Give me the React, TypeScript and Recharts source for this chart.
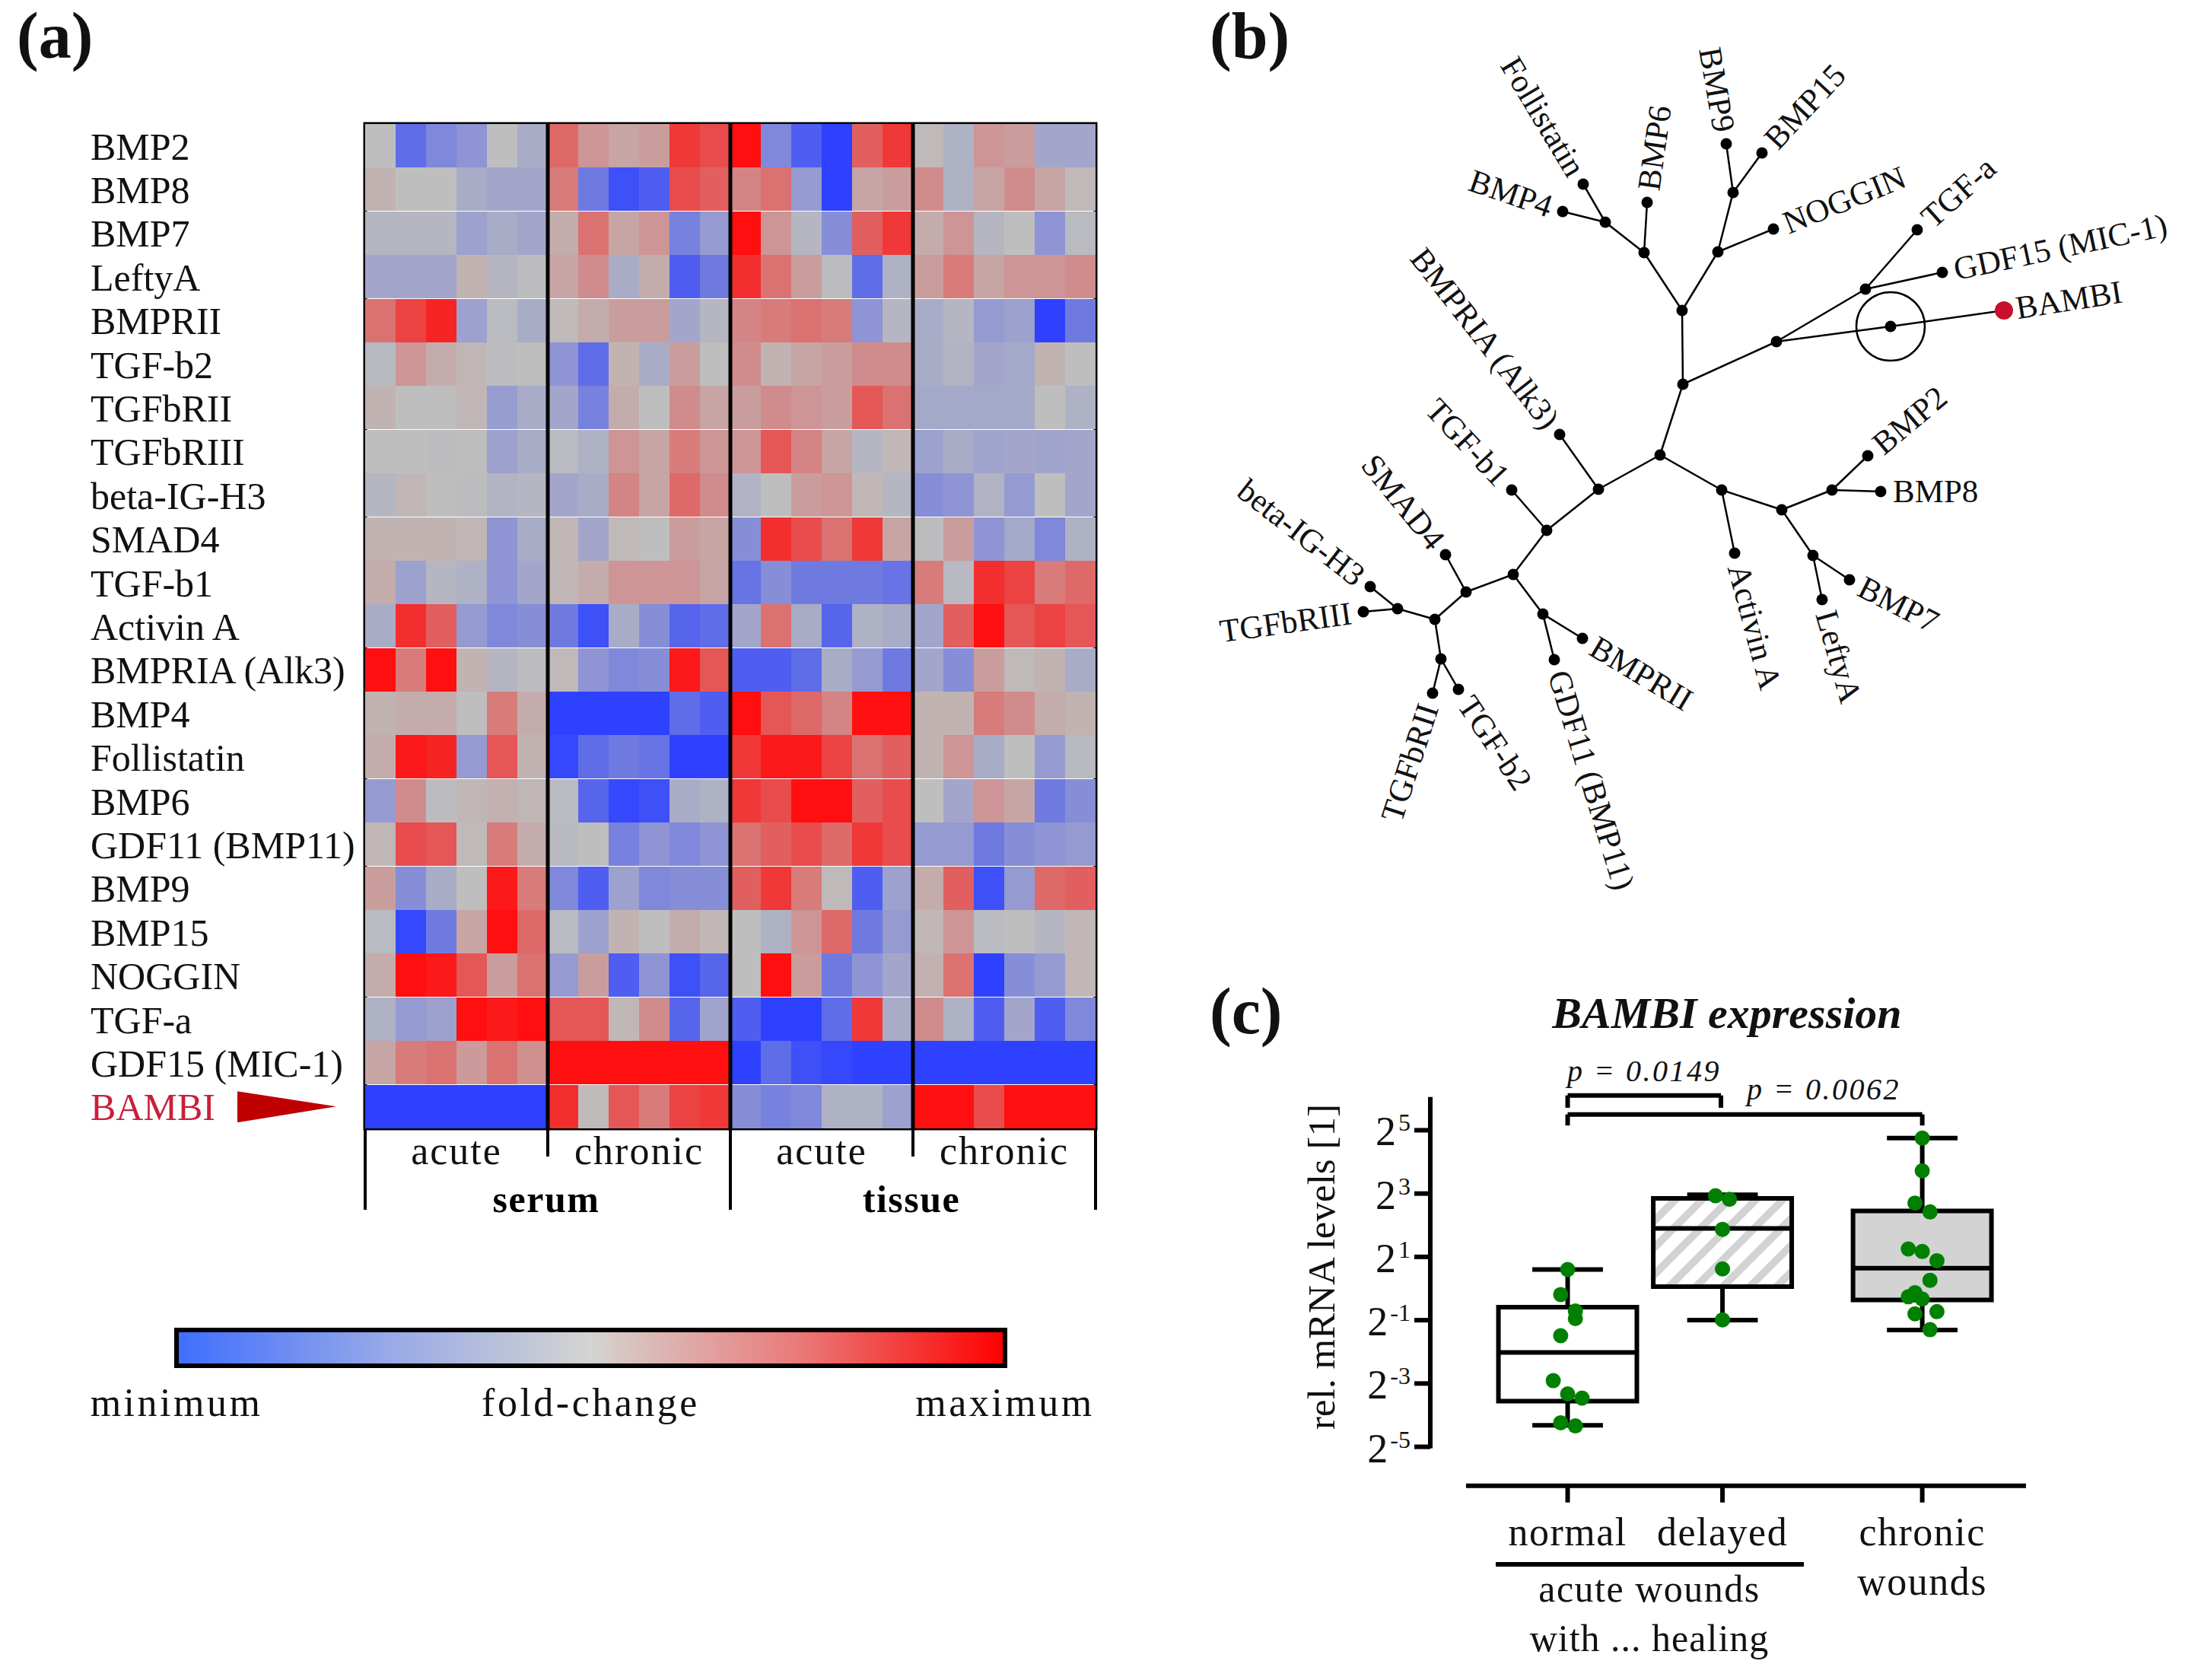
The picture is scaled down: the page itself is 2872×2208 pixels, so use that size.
import React from 'react';
import {
  BarChart,
  Bar,
  Cell,
  ComposedChart,
  ReferenceArea,
  ReferenceDot,
  ReferenceLine,
  Scatter,
  ScatterChart,
  XAxis,
  YAxis
} from 'recharts';

const SERIF = '"Liberation Serif", serif';

// (a) heat map, score -10 (minimum) .. 10 (maximum), 4 x 6 columns
const genes = ['BMP2', 'BMP8', 'BMP7', 'LeftyA', 'BMPRII', 'TGF-b2', 'TGFbRII', 'TGFbRIII', 'beta-IG-H3', 'SMAD4', 'TGF-b1', 'Activin A', 'BMPRIA (Alk3)', 'BMP4', 'Follistatin', 'BMP6', 'GDF11 (BMP11)', 'BMP9', 'BMP15', 'NOGGIN', 'TGF-a', 'GDF15 (MIC-1)', 'BAMBI'];
const scores: number[][] = [
  [0, -7, -5, -4, 0, -2, 5.5, 3, 2, 2.5, 8, 7, 10, -5, -8, -10, 6, 8, 0.5, -1.5, 3, 2.5, -2.5, -2.5],
  [1, 0, 0, -2, -2.5, -2.5, 4.5, -6, -9, -8, 7, 6, 4, 5, -3.5, -10, 2, 2.5, 3.5, -1.5, 2, 3.5, 2, 0.5],
  [-1, -1, -1, -3, -2, -2.5, 1.5, 5, 2, 3, -5.5, -3.5, 10, 3, -1, -4.5, 6, 8, 1.5, 3, -1, 0, -4, -0.5],
  [-2.5, -2.5, -2.5, 1, -1, -0.3, 2, 3.5, -2, 1.5, -8, -6, 8.5, 5, 2.5, -0.3, -7, -1.5, 2.5, 4.5, 2, 3, 3, 3.5],
  [5, 7.5, 9, -3, -0.5, -2, 0.5, 1.5, 2.5, 2.5, -2.5, -1, 4, 4.5, 5, 4.5, -4, -1, -2, -1, -3.5, -3, -10, -6],
  [-0.7, 3, 1.5, 0.8, -0.3, 0, -4, -7, 1, -2, 2.5, 0, 3.5, 1, 2, 2.5, 3.5, 3.5, -2, -1.2, -2.5, -2.3, 1, 0],
  [1, 0, 0, 0.8, -3.3, -2, -2.5, -5.5, 1.5, 0, 3.5, 2, 2.5, 3.5, 3, 2.5, 6.5, 5, -2.3, -2.3, -2.3, -2.3, 0, -1.5],
  [0, 0, -0.3, 0, -3, -2, -0.5, -1.5, 3, 2, 4.5, 3, 3, 6.5, 4, 2, -1, 0.7, -3, -2, -2.7, -2.5, -2.7, -2.5],
  [-1, 0.8, 0, -0.3, -1.2, -1, -2.5, -2, 4, 2, 5.5, 3.5, -1.3, 0, 2.5, 3, 0.7, -1, -4.5, -4, -1.3, -3.5, 0, -2.5],
  [1, 1, 1, 0.8, -4, -2, 0.7, -2.5, 0.5, 0, 2.5, 2, -4.5, 8.5, 7, 5, 8, 2, -0.3, 2.5, -4, -2.3, -5, -1.5],
  [1.5, -3, -1, -1.5, -4, -2.5, 0.7, 1.5, 3, 3, 3, 2, -6.5, -4.5, -6, -6, -6, -6.5, 4.5, -0.7, 8.5, 7.5, 4.5, 5.5],
  [-2, 8.5, 6, -3.5, -5, -4.5, -6, -9, -2, -4.5, -7.5, -7, -2.5, 5, -2, -7.5, -1.5, -2, -2.5, 6, 10, 6.5, 7.5, 6.5],
  [10, 4.5, 10, 1, -1, -0.3, 0.5, -4, -5, -4.5, 9.5, 6.5, -8, -8, -7, -2, -3.5, -6, -2.5, -4.5, 2.5, 0.5, 1, -2],
  [1, 1.5, 1.5, 0, 4.5, 1.5, -10, -10, -10, -10, -7, -8, 10, 6.5, 5.5, 4, 10, 10, 1, 1, 4.5, 3.5, 1.5, 1],
  [1.5, 9.5, 9, -3.5, 6.5, 1, -9.5, -7, -6, -6.5, -10, -10, 8, 9.5, 9.5, 7.5, 5, 6, 1, 3, -2, 0, -3.5, -0.7],
  [-3.5, 3.5, -0.3, 0.8, 1.2, 0.8, -0.5, -7.5, -9.5, -9, -2, -1.5, 8, 7, 10, 10, 6, 7, 0, -2.5, 3, 2, -6, -4.5],
  [0.8, 7, 6.5, 0.5, 4.5, 1.5, -0.7, 0, -5.5, -4, -5, -4, 5, 6, 7, 5.5, 8, 7, -3.5, -3.5, -6, -4.5, -4, -3.5],
  [2.5, -4.5, -2, 0, 9.5, 4.5, -5, -8, -3, -5, -4.5, -4.5, 6, 8, 4.5, 0.5, -8, -3, 1.5, 6, -9, -3.5, 5.5, 6],
  [-0.5, -9.5, -6, 2, 10, 5.5, -0.5, -3, 1, 0, 1.5, 0.7, 0, -1.5, 3, 5.5, -6, -3.5, 0.7, 3, -0.5, 0, -1, 0.7],
  [1.5, 10, 9.5, 6.5, 2.5, 5, -3.5, 2.5, -8, -4, -9, -7.5, 0, 10, 2.5, -6, -4, -2.5, 1.2, 5, -10, -4.5, -3.5, 0.7],
  [-1.5, -3.5, -3, 10, 9.5, 10, 6.5, 6.5, 0.7, 3.5, -7.5, -2.8, -8, -10, -10, -7, 8, -2, 3.5, -1.5, -8, -2.5, -8, -5],
  [2, 4.5, 5, 2.7, 5, 3.3, 10, 10, 10, 10, 10, 10, -10, -7, -9, -9.5, -10, -10, -10, -10, -10, -10, -10, -10],
  [-10, -10, -10, -10, -10, -10, 8.5, 0.3, 6.5, 4.5, 7.5, 8, -4.5, -5.5, -5, -1.5, -1.5, -3, 10, 10, 7, 10, 10, 10]
];
const columnKeys = scores[0].map((_, i) => 'c' + i);
const heatRows = genes.map(gene => {
  const row: any = { gene };
  columnKeys.forEach(k => { row[k] = 1; });
  return row;
});
const heatTicks = [0, 3, 6, 9, 12, 15, 18, 21, 24];
const conditionLabels: any = { 3: 'acute', 9: 'chronic', 15: 'acute', 21: 'chronic' };
const sourceLabels: any = { 6: 'serum', 18: 'tissue' };

const scaleLabels: any = { '-10': 'minimum', '0': 'fold-change', '10': 'maximum' };
const scaleRows = [{ name: 'fold-change', span: [-10, 10] }];

// (b) tree, coordinates
const nodeNames = ['Follistatin', 'BMP4', 'n1', 'BMP6', 'n2', 'BMP9', 'BMP15', 'n3', 'NOGGIN', 'n4', 'n5', 'n6', 'n7', 'n8', 'TGF-a', 'GDF15 (MIC-1)', 'n9', 'BAMBI', 'n10', 'n11', 'Activin A', 'n12', 'n13', 'BMP2', 'BMP8', 'n14', 'BMP7', 'LeftyA', 'n15', 'BMPRIA (Alk3)', 'n16', 'TGF-b1', 'n17', 'n18', 'BMPRII', 'GDF11 (BMP11)', 'n19', 'SMAD4', 'n20', 'n21', 'beta-IG-H3', 'TGFbRIII', 'n22', 'TGFbRII', 'TGF-b2'];
const nodeX = [2081, 2054, 2110, 2165, 2161, 2269, 2316, 2278, 2331, 2258, 2211, 2212, 2335, 2452, 2520, 2553, 2485, 2634, 2182, 2263, 2280, 2342, 2408, 2455, 2472, 2383, 2431, 2395, 2101, 2050, 2033, 1987, 1989, 2028, 2080, 2043, 1927, 1900, 1886, 1837, 1801, 1792, 1894, 1883, 1917];
const nodeY = [242, 278, 292, 266, 332, 189, 201, 253, 301, 331, 408, 505, 449, 380, 302, 358, 429, 408, 598, 644, 727, 670, 644, 599, 646, 730, 762, 788, 643, 571, 697, 644, 755, 807, 839, 867, 778, 729, 814, 800, 771, 804, 866, 911, 906];
const edges = [
  ['Follistatin', 'n1'], ['BMP4', 'n1'], ['n1', 'n2'], ['BMP6', 'n2'], ['n2', 'n5'],
  ['BMP9', 'n3'], ['BMP15', 'n3'], ['n3', 'n4'], ['NOGGIN', 'n4'], ['n4', 'n5'], ['n5', 'n6'],
  ['n6', 'n7'], ['n7', 'n8'], ['n8', 'TGF-a'], ['n8', 'GDF15 (MIC-1)'], ['n7', 'n9'], ['n9', 'BAMBI'],
  ['n6', 'n10'], ['n10', 'n11'], ['n11', 'Activin A'], ['n11', 'n12'], ['n12', 'n13'], ['n13', 'BMP2'], ['n13', 'BMP8'],
  ['n12', 'n14'], ['n14', 'BMP7'], ['n14', 'LeftyA'], ['n10', 'n15'], ['n15', 'BMPRIA (Alk3)'], ['n15', 'n16'],
  ['n16', 'TGF-b1'], ['n16', 'n17'], ['n17', 'n18'], ['n18', 'BMPRII'], ['n18', 'GDF11 (BMP11)'], ['n17', 'n19'],
  ['n19', 'SMAD4'], ['n19', 'n20'], ['n20', 'n21'], ['n21', 'beta-IG-H3'], ['n21', 'TGFbRIII'], ['n20', 'n22'],
  ['n22', 'TGFbRII'], ['n22', 'TGF-b2']
];
const treeNodes = nodeNames.map((name, i) => ({ name, x: nodeX[i], y: nodeY[i] }));
const byName = (name: string) => treeNodes.find(n => n.name === name);

// label angle in degrees; the ones marked end read towards their node
const labelAngles: any = {
  Follistatin: 59, BMP4: 19, BMP6: -82, BMP9: 80, BMP15: -47, NOGGIN: -22, 'TGF-a': -42, 'GDF15 (MIC-1)': -12, BAMBI: -9,
  BMP2: -40, BMP8: 0, BMP7: 27, LeftyA: 74, 'Activin A': 75, BMPRII: 31, 'GDF11 (BMP11)': 73, 'TGF-b2': 56,
  TGFbRII: -72, TGFbRIII: -8, 'beta-IG-H3': 38, SMAD4: 51, 'TGF-b1': 47, 'BMPRIA (Alk3)': 52
};
const endAnchored = ['Follistatin', 'BMP4', 'BMP9', 'TGFbRII', 'TGFbRIII', 'beta-IG-H3', 'SMAD4', 'TGF-b1', 'BMPRIA (Alk3)'];

// (c) BAMBI expression, log2 levels
const boxPositions = [1, 2, 3.29];
const whiskerLow = [-4.32, -1.0, -1.31];
const q1 = [-3.56, 0.06, -0.36];
const medians = [-2.02, 1.9, 0.64];
const q3 = [-0.59, 2.85, 2.45];
const whiskerHigh = [0.6, 2.96, 4.75];

const pointPos = [1, 0.955, 1.05, 1.05, 0.955, 0.907, 1, 1.093, 0.955, 1.05, 1.955, 2.045, 2, 2, 2, 3.29, 3.29, 3.243, 3.34, 3.2, 3.29, 3.385, 3.34, 3.243, 3.2, 3.29, 3.385, 3.243, 3.34];
const pointLevel = [0.6, -0.19, -0.71, -0.95, -1.49, -2.91, -3.33, -3.46, -4.24, -4.34, 2.93, 2.82, 1.87, 0.62, -0.99, 4.75, 3.72, 2.7, 2.42, 1.25, 1.17, 0.88, 0.26, -0.13, -0.26, -0.33, -0.73, -0.8, -1.3];
const points = pointPos.map((pos, i) => ({ pos, level: pointLevel[i] }));

const levelTicks = [-5, -3, -1, 1, 3, 5];
const woundLabels: any = { 1: ['normal'], 2: ['delayed'], 3.29: ['chronic', 'wounds'] };

const mix = (a: number[], b: number[], t: number) =>
  'rgb(' + a.map((v, i) => Math.round(v + (b[i] - v) * t)).join(',') + ')';
const heatColor = (s: number) => {
  const t = Math.pow(Math.abs(s) / 10, 1.2);
  return s < 0 ? mix([190, 190, 190], [45, 65, 255], t) : mix([190, 190, 190], [255, 15, 15], t);
};

const GeneTick = ({ y, payload }: any) => {
  const bambi = payload.value === 'BAMBI';
  return (
    <g>
      <text x={119} y={y + 18} fontFamily={SERIF} fontSize={50} fill={bambi ? '#C8203A' : '#111'}>{payload.value}</text>
      {bambi && <polygon points={`312,${y - 20} 442,${y} 312,${y + 21}`} fill="#C00000" />}
    </g>
  );
};

const HeatTick = ({ x, y, payload }: any) => {
  const v = payload.value;
  if (conditionLabels[v]) {
    return <text x={x} y={y + 47} textAnchor="middle" fontFamily={SERIF} fontSize={52} letterSpacing={2} fill="#111">{conditionLabels[v]}</text>;
  }
  const long = v % 12 === 0;
  return (
    <g>
      <line x1={x} x2={x} y1={y} y2={y + (long ? 107 : 37)} stroke="#000" strokeWidth={4} />
      {sourceLabels[v] && <text x={x - 2} y={y + 110} textAnchor="middle" fontFamily={SERIF} fontWeight="bold" fontSize={50} letterSpacing={1.5} fill="#000">{sourceLabels[v]}</text>}
    </g>
  );
};

const HeatMap = () => (
  <BarChart
    style={{ position: 'absolute', left: 0, top: 0 }}
    width={1460}
    height={1620}
    data={heatRows}
    layout="vertical"
    barCategoryGap={0}
    margin={{ top: 163, right: 20, bottom: 7, left: 0 }}
  >
    <XAxis type="number" domain={[0, 24]} ticks={heatTicks} interval={0} height={130} axisLine={false} tickLine={false} tickSize={0} tickMargin={0} tick={HeatTick} />
    <YAxis type="category" dataKey="gene" width={480} interval={0} axisLine={false} tickLine={false} tick={GeneTick} />
    {columnKeys.map((key, c) => (
      <Bar key={key} dataKey={key} stackId="heat" isAnimationActive={false} shapeRendering="crispEdges">
        {genes.map((gene, g) => <Cell key={gene} fill={heatColor(scores[g][c])} />)}
      </Bar>
    ))}
    <ReferenceLine x={6} stroke="#000" strokeWidth={5} />
    <ReferenceLine x={12} stroke="#000" strokeWidth={5} />
    <ReferenceLine x={18} stroke="#000" strokeWidth={5} />
    <ReferenceArea x1={0} x2={24} fill="none" stroke="#000" strokeWidth={5} />
  </BarChart>
);

const ScaleTick = ({ x, y, payload }: any) => (
  <text x={x} y={y + 66} textAnchor="middle" fontFamily={SERIF} fontSize={52} letterSpacing={3.5} fill="#111">
    {scaleLabels[String(payload.value)]}
  </text>
);

const ColorScale = () => (
  <BarChart
    style={{ position: 'absolute', left: 0, top: 1700 }}
    width={1460}
    height={200}
    data={scaleRows}
    layout="vertical"
    barCategoryGap={0}
    margin={{ top: 48, right: 139, bottom: 5, left: 232 }}
  >
    <defs>
      <linearGradient id="foldChange" x1="0" y1="0" x2="1" y2="0">
        <stop offset="0%" stopColor="#3F6EFF" />
        <stop offset="25%" stopColor="#96A8E8" />
        <stop offset="50%" stopColor="#D4D4D0" />
        <stop offset="75%" stopColor="#EA7A7A" />
        <stop offset="100%" stopColor="#FF0000" />
      </linearGradient>
    </defs>
    <XAxis type="number" domain={[-10, 10]} ticks={[-10, 0, 10]} interval={0} height={100} axisLine={false} tickLine={false} tickSize={0} tickMargin={0} tick={ScaleTick} />
    <YAxis type="category" dataKey="name" hide />
    <Bar dataKey="span" fill="url(#foldChange)" stroke="#000" strokeWidth={6} isAnimationActive={false} />
  </BarChart>
);

const TreeNode = ({ cx, cy, payload }: any) => {
  const name = payload.name;
  const angle = labelAngles[name];
  const red = name === 'BAMBI';
  return (
    <g>
      <circle cx={cx} cy={cy} r={red ? 12 : 7.5} fill={red ? '#C8102E' : '#000'} />
      {angle !== undefined && (
        <text
          transform={`translate(${cx},${cy}) rotate(${angle})`}
          x={endAnchored.includes(name) ? -16 : 16}
          y={14}
          textAnchor={endAnchored.includes(name) ? 'end' : 'start'}
          fontFamily={SERIF}
          fontSize={43}
          fill="#111"
        >
          {name}
        </text>
      )}
    </g>
  );
};

const Tree = () => (
  <ScatterChart
    style={{ position: 'absolute', left: 1560, top: 0 }}
    width={1312}
    height={1220}
    margin={{ top: 0, right: 0, bottom: 0, left: 0 }}
  >
    <XAxis type="number" dataKey="x" domain={[1560, 2872]} hide />
    <YAxis type="number" dataKey="y" domain={[0, 1220]} reversed hide />
    {edges.map(([a, b]) => (
      <ReferenceLine
        key={a + b}
        segment={[{ x: byName(a).x, y: byName(a).y }, { x: byName(b).x, y: byName(b).y }]}
        stroke="#000"
        strokeWidth={2.5}
      />
    ))}
    <Scatter data={treeNodes} shape={TreeNode} isAnimationActive={false} />
    <ReferenceDot x={byName('n9').x} y={byName('n9').y} r={45} fill="none" stroke="#000" strokeWidth={2.5} />
  </ScatterChart>
);

const LevelTick = ({ x, y, payload }: any) => (
  <text x={x - 5} y={y + 20} textAnchor="end" fontFamily={SERIF} fontSize={54} fill="#111">
    2<tspan dx={3} dy={-19} fontSize={32}>{payload.value}</tspan>
  </text>
);

const WoundTick = ({ x, y, payload }: any) => (
  <g>
    {woundLabels[payload.value].map((line: string, i: number) => (
      <text key={line} x={x} y={y + 54 + i * 65} textAnchor="middle" fontFamily={SERIF} fontSize={52} letterSpacing={1.5} fill="#111">{line}</text>
    ))}
  </g>
);

const segment = (key: string, x1: number, y1: number, x2: number, y2: number) => (
  <Scatter
    key={key}
    data={[{ pos: x1, level: y1 }, { pos: x2, level: y2 }]}
    line={{ stroke: '#000', strokeWidth: 6 }}
    shape={() => <g />}
    isAnimationActive={false}
  />
);

const boxFills = ['#fff', 'url(#hatch)', '#D3D3D3'];
const BOX_HALF = 0.447;

const BoxPlot = () => (
  <ComposedChart
    style={{ position: 'absolute', left: 1700, top: 1400 }}
    width={1000}
    height={800}
    margin={{ top: 39.7, right: 37, bottom: 7.3, left: 0 }}
  >
    <defs>
      <pattern id="hatch" width={25} height={25} patternUnits="userSpaceOnUse" patternTransform="rotate(45)">
        <rect width={25} height={25} fill="#fff" />
        <rect width={10} height={25} fill="#D3D3D3" />
      </pattern>
    </defs>
    <XAxis type="number" dataKey="pos" domain={[0.113, 3.96]} ticks={boxPositions} interval={0} height={240} axisLine={false} tickSize={22} tickMargin={2} tickLine={{ stroke: '#000', strokeWidth: 6 }} tick={WoundTick} />
    <YAxis type="number" dataKey="level" domain={[-6.23, 6.1]} ticks={levelTicks} interval={0} width={180} axisLine={false} tickSize={21} tickMargin={0} tickLine={{ stroke: '#000', strokeWidth: 6 }} tick={LevelTick} />
    {boxPositions.map((p, i) => (
      <ReferenceArea key={p} x1={p - BOX_HALF} x2={p + BOX_HALF} y1={q1[i]} y2={q3[i]} fill={boxFills[i]} fillOpacity={1} stroke="#000" strokeWidth={6} />
    ))}
    {segment('yaxis', 0.113, -5.05, 0.113, 6.05)}
    {segment('xaxis', 0.344, -6.23, 3.96, -6.23)}
    {boxPositions.map((p, i) => segment('wl' + i, p, whiskerLow[i], p, q1[i]))}
    {boxPositions.map((p, i) => segment('wh' + i, p, q3[i], p, whiskerHigh[i]))}
    {boxPositions.map((p, i) => segment('cl' + i, p - 0.228, whiskerLow[i], p + 0.228, whiskerLow[i]))}
    {boxPositions.map((p, i) => segment('ch' + i, p - 0.228, whiskerHigh[i], p + 0.228, whiskerHigh[i]))}
    {boxPositions.map((p, i) => segment('m' + i, p - BOX_HALF, medians[i], p + BOX_HALF, medians[i]))}
    {segment('b1a', 1, 5.71, 1, 6.1)}
    {segment('b1b', 1, 6.1, 1.99, 6.1)}
    {segment('b1c', 1.99, 6.1, 1.99, 5.71)}
    {segment('b2a', 1, 5.15, 1, 5.5)}
    {segment('b2b', 1, 5.5, 3.29, 5.5)}
    {segment('b2c', 3.29, 5.5, 3.29, 5.15)}
    <Scatter data={points} fill="#008000" isAnimationActive={false} shape={({ cx, cy }: any) => <circle cx={cx} cy={cy} r={10} fill="#008000" />} />
  </ComposedChart>
);

const App = () => (
  <div style={{ position: 'absolute', left: 0, top: 0, width: 2872, height: 2208, background: '#fff', overflow: 'hidden' }}>
    <HeatMap />
    <ColorScale />
    <Tree />
    <BoxPlot />
    <svg width={2872} height={2208} style={{ position: 'absolute', left: 0, top: 0, pointerEvents: 'none' }} fontFamily={SERIF} fill="#111">
      <text x={22} y={76} fontSize={86} fontWeight="bold">(a)</text>
      <text x={1590} y={76} fontSize={86} fontWeight="bold">(b)</text>
      <text x={1590} y={1358} fontSize={86} fontWeight="bold">(c)</text>
      <text x={2270} y={1351} textAnchor="middle" fontSize={58} fontWeight="bold" fontStyle="italic">BAMBI expression</text>
      <text x={2060} y={1421} fontSize={40} fontStyle="italic" letterSpacing={2.5}>p = 0.0149</text>
      <text x={2296} y={1445} fontSize={40} fontStyle="italic" letterSpacing={2.5}>p = 0.0062</text>
      <text transform="translate(1754,1665) rotate(-90)" textAnchor="middle" fontSize={51}>rel. mRNA levels [1]</text>
      <line x1={1966} x2={2371} y1={2056} y2={2056} stroke="#000" strokeWidth={6} />
      <text x={2168} y={2105} textAnchor="middle" fontSize={50} letterSpacing={1.5}>acute wounds</text>
      <text x={2168} y={2170} textAnchor="middle" fontSize={50} letterSpacing={1}>with ... healing</text>
    </svg>
  </div>
);

export default App;
